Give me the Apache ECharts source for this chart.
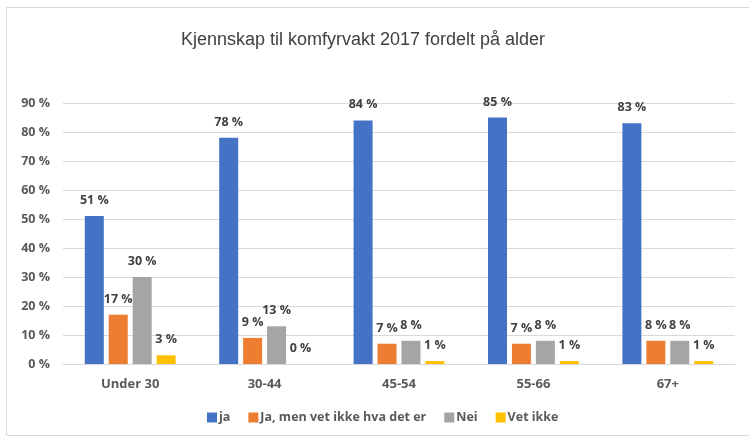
<!DOCTYPE html>
<html>
<head>
<meta charset="utf-8">
<script src="https://cdn.jsdelivr.net/npm/echarts@6/dist/echarts.min.js"></script>
<style>
  html, body { margin: 0; padding: 0; background: #fff; }
  #chart { width: 749px; height: 439px; }
</style>
</head>
<body>
<div id="chart"></div>
<script>
// data
const categories = ['Under 30', '30-44', '45-54', '55-66', '67+'];
const seriesNames = ['ja', 'Ja, men vet ikke hva det er', 'Nei', 'Vet ikke'];
const ja = [51, 78, 84, 85, 83];
const jaMen = [17, 9, 7, 7, 8];
const nei = [30, 13, 8, 8, 8];
const vetIkke = [3, 0, 1, 1, 1];
const yTicks = [0, 10, 20, 30, 40, 50, 60, 70, 80, 90];

const colors = ['#4472C4', '#ED7D31', '#A5A5A5', '#FFC000'];
const labelFont = '"Open Sans", "Noto Sans", sans-serif';

function makeSeries(name, data, color) {
    return {
        name: name,
        type: 'bar',
        data: data,
        barWidth: 19,
        barGap: '26%',
        itemStyle: { color: color },
        label: {
            show: true,
            position: 'top',
            distance: 9,
            formatter: '{c} %',
            color: '#404040',
            fontSize: 12.5,
            fontWeight: 'bold',
            fontFamily: labelFont
        }
    };
}

let myChart = echarts.init(document.getElementById('chart'));
myChart.setOption({
    animation: false,
    color: colors,
    title: {
        text: 'Kjennskap til komfyrvakt 2017 fordelt på alder',
        left: 358,
        textAlign: 'center',
        top: 26,
        textStyle: {
            fontFamily: '"Liberation Sans", Arial, sans-serif',
            fontWeight: 'normal',
            fontSize: 18,
            color: '#404040'
        }
    },
    graphic: [{
        type: 'rect',
        shape: { x: 6.5, y: 7.5, width: 760, height: 428 },
        style: { fill: null, stroke: '#D9D9D9', lineWidth: 1 },
        silent: true
    }],
    legend: {
        bottom: 10,
        left: 202,
        itemWidth: 10,
        itemHeight: 10,
        itemGap: 18,
        icon: 'rect',
        textStyle: {
            fontFamily: labelFont,
            fontSize: 12.5,
            fontWeight: 'bold',
            color: '#595959',
            padding: [0, 0, 0, -3]
        },
        data: seriesNames
    },
    grid: {
        left: 63,
        right: 14,
        top: 103,
        bottom: 75
    },
    xAxis: {
        type: 'category',
        data: categories,
        axisTick: { show: false },
        axisLine: { lineStyle: { color: '#D9D9D9' } },
        axisLabel: {
            margin: 14,
            color: '#595959',
            fontSize: 13,
            fontWeight: 'bold',
            fontFamily: labelFont
        }
    },
    yAxis: {
        type: 'value',
        min: yTicks[0],
        max: yTicks[yTicks.length - 1],
        interval: 10,
        axisLine: { show: false },
        axisTick: { show: false },
        splitLine: { lineStyle: { color: '#D9D9D9' } },
        axisLabel: {
            formatter: '{value} %',
            margin: 13,
            color: '#595959',
            fontSize: 12.5,
            fontWeight: 'bold',
            fontFamily: labelFont
        }
    },
    series: [
        makeSeries(seriesNames[0], ja, colors[0]),
        makeSeries(seriesNames[1], jaMen, colors[1]),
        makeSeries(seriesNames[2], nei, colors[2]),
        makeSeries(seriesNames[3], vetIkke, colors[3])
    ]
});
</script>
</body>
</html>
